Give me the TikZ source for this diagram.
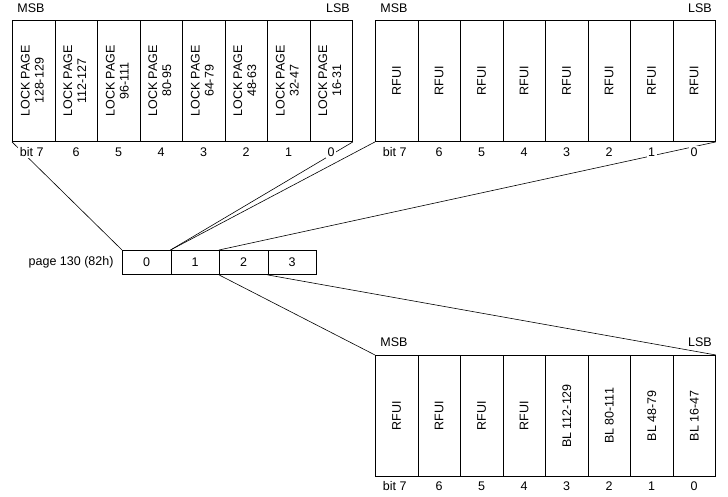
\documentclass[tikz,border=0pt]{standalone}
\usepackage{fontspec}
\setmainfont{Liberation Sans}
\begin{document}
\begin{tikzpicture}[x=1pt,y=-1pt,font=\fontsize{12.5}{14}\selectfont,
  cell/.style={draw,line width=0.9pt,minimum width=42.5pt,minimum height=121pt,anchor=north west,inner sep=0pt},
  bcell/.style={draw,line width=0.9pt,minimum width=48.5pt,minimum height=24pt,anchor=north west,inner sep=0pt},
  lbl/.style={fill=white,inner sep=1.5pt},
  ln/.style={line width=0.6pt}]
\useasboundingbox (0,0) rectangle (728,497);
% top-left register
\foreach \i/\t in {0/128-129,1/112-127,2/96-111,3/80-95,4/64-79,5/48-63,6/32-47,7/16-31}
  \node[cell] (a\i) at (12+\i*42.5,20) {\rotatebox{90}{\renewcommand\arraystretch{1.0}\begin{tabular}{@{}c@{}}LOCK PAGE\\\t\end{tabular}}};
\foreach \i in {0,...,7}
  \node[cell] (b\i) at (375+\i*42.5,20) {\rotatebox{90}{RFUI}};
\foreach \i/\t in {0/RFUI,1/RFUI,2/RFUI,3/RFUI,4/{BL 112-129},5/{BL 80-111},6/{BL 48-79},7/{BL 16-47}}
  \node[cell] (c\i) at (375+\i*42.5,355) {\rotatebox{90}{\t}};
% middle
\foreach \i in {0,...,3}
  \node[bcell] (m\i) at (122+\i*48.5,250) {\i};
\node[anchor=east] (pg) at (117,262) {page 130 (82h)};
% connectors
\draw[ln] (a0.south west) -- (m0.north west);
\draw[ln] (a7.south east) -- (m1.north west);
\draw[ln] (b0.south west) -- (m1.north west);
\draw[ln] (b7.south east) -- (m2.north west);
\draw[ln] (m2.south west) -- (c0.north west);
\draw[ln] (m3.south west) -- (c7.north east);
% bit labels
\foreach \r/\y in {a/152,b/152,c/486}{
  \node[lbl] (\r l0) at ([xshift=-2pt]\r0.south |- 0,\y) {bit 7};
  \foreach \i/\t in {1/6,2/5,3/4,4/3,5/2,6/1,7/0}
    \node[lbl] (\r l\i) at (\r\i.south |- 0,\y) {\t};
}
\node (ma) at (31,8) {MSB}; \node (la) at (338,8) {LSB};
\node (mb) at (394,8) {MSB}; \node (lb) at (700,8) {LSB};
\node (mc) at (394,342) {MSB}; \node (lc) at (700,342) {LSB};
\end{tikzpicture}
\end{document}
